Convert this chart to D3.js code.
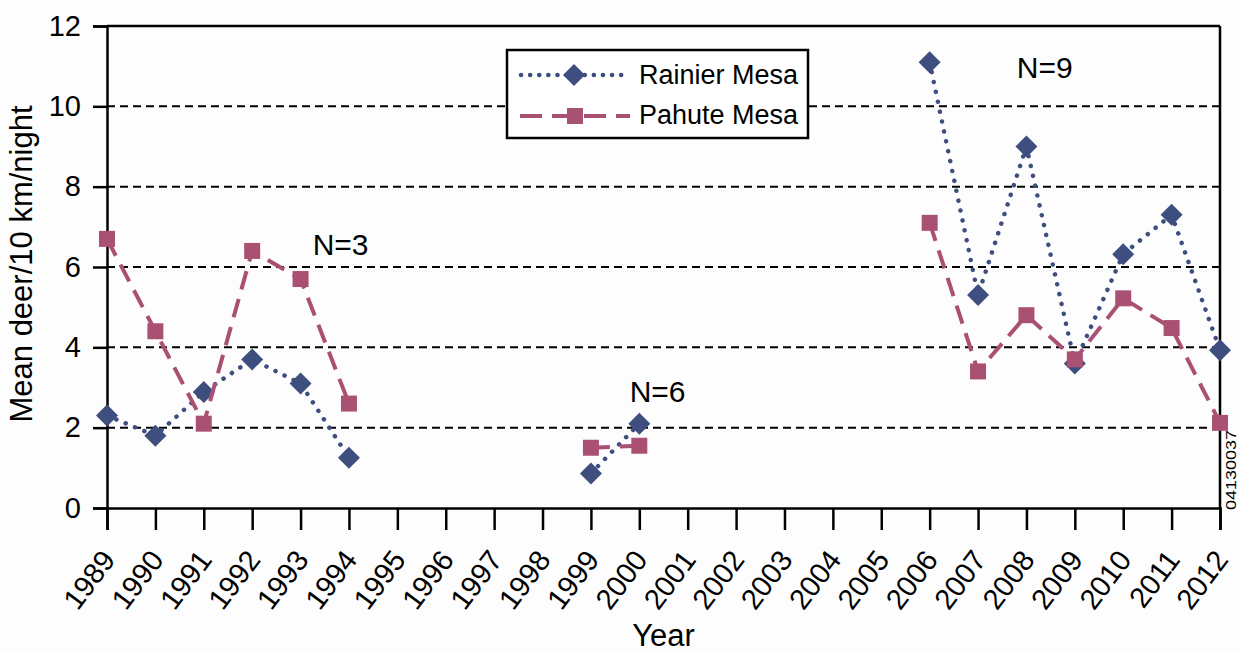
<!DOCTYPE html>
<html>
<head>
<meta charset="utf-8">
<script src="https://cdn.jsdelivr.net/npm/d3@7/dist/d3.min.js"></script>
<style>
  html, body { margin: 0; padding: 0; background: #fdfdfd; }
  svg { display: block; font-family: "Liberation Sans", Arial, sans-serif; }
</style>
</head>
<body>
<svg id="chart" width="1239" height="652"></svg>
<script>
// ---- Data ----
const years = d3.range(1989, 2013);
const rainierMesa = [2.30, 1.80, 2.89, 3.70, 3.10, 1.25, null, null, null, null, 0.86, 2.10,
                     null, null, null, null, null, 11.10, 5.30, 9.00, 3.60, 6.32, 7.30, 3.93];
const pahuteMesa  = [6.70, 4.40, 2.10, 6.40, 5.70, 2.60, null, null, null, null, 1.50, 1.55,
                     null, null, null, null, null, 7.10, 3.40, 4.80, 3.70, 5.22, 4.48, 2.12];
const yTicks = [0, 2, 4, 6, 8, 10, 12];
const gridValues = [2, 4, 6, 8, 10];
const seriesNames = ["Rainier Mesa", "Pahute Mesa"];
const annotations = [
  { text: "N=3", year: 1993.25, value: 6.3 },
  { text: "N=6", year: 1999.8, value: 2.65 },
  { text: "N=9", year: 2007.8, value: 10.7 }
];

// ---- Layout ----
const svg = d3.select("#chart");
const L = 107, R = 1220, T = 26, B = 508;
const x = d3.scaleLinear().domain([1989, 2012]).range([L, R]);
const y = d3.scaleLinear().domain([0, 12]).range([B, T]);

const navy = "#3d4e7f";
const rose = "#aa5073";
const FONT = "Liberation Sans, Arial, sans-serif";

// grid
svg.append("g").selectAll("line").data(gridValues).join("line")
  .attr("x1", L).attr("x2", R)
  .attr("y1", d => y(d)).attr("y2", d => y(d))
  .attr("stroke", "#000").attr("stroke-width", 2)
  .attr("stroke-dasharray", "8 5");

// frame top/right
svg.append("line").attr("x1", L).attr("x2", R).attr("y1", T).attr("y2", T)
  .attr("stroke", "#000").attr("stroke-width", 2.5);
svg.append("line").attr("x1", R).attr("x2", R).attr("y1", T).attr("y2", B)
  .attr("stroke", "#000").attr("stroke-width", 2.5);

// y axis
const yAxis = svg.append("g").attr("transform", `translate(${L},0)`)
  .call(d3.axisLeft(y).tickValues(yTicks).tickSize(14).tickPadding(12).tickFormat(d3.format("d")));
yAxis.select(".domain").attr("stroke-width", 2.5);
yAxis.selectAll(".tick line").attr("stroke-width", 2.5);
yAxis.selectAll("text").style("font-size", "29px").attr("fill", "#000")
  .style("font-family", FONT);

// x axis
const xAxis = svg.append("g").attr("transform", `translate(0,${B})`)
  .call(d3.axisBottom(x).tickValues(years).tickSize(22).tickFormat(d3.format("d")));
xAxis.select(".domain").attr("stroke-width", 2.5);
xAxis.selectAll(".tick line").attr("stroke-width", 2.5);
xAxis.selectAll("text")
  .style("font-size", "29px").attr("fill", "#000")
  .style("font-family", FONT)
  .attr("x", 0).attr("y", 0).attr("dy", 0)
  .attr("text-anchor", "end")
  .attr("transform", "translate(9,52) rotate(-53)");

// axis titles
svg.append("text").attr("x", (L + R) / 2).attr("y", 646)
  .attr("text-anchor", "middle").style("font-size", "31px").text("Year");
svg.append("text").attr("transform", "translate(32,264) rotate(-90)")
  .attr("text-anchor", "middle").style("font-size", "31px").text("Mean deer/10 km/night");

// lines
const lineGen = d3.line()
  .defined(d => d.v != null)
  .x(d => x(d.year)).y(d => y(d.v));

const rData = years.map((yr, i) => ({ year: yr, v: rainierMesa[i] }));
const pData = years.map((yr, i) => ({ year: yr, v: pahuteMesa[i] }));

svg.append("path").datum(rData).attr("d", lineGen)
  .attr("fill", "none").attr("stroke", navy).attr("stroke-width", 4.5)
  .attr("stroke-linecap", "round").attr("stroke-dasharray", "0.1 10");

const diamondPath = d3.symbol().type(d3.symbolSquare).size(242)();
const squarePath = d3.symbol().type(d3.symbolSquare).size(256)();

svg.append("g").selectAll("path").data(rData.filter(d => d.v != null)).join("path")
  .attr("d", diamondPath)
  .attr("transform", d => `translate(${x(d.year)},${y(d.v)}) rotate(45)`)
  .attr("fill", navy);

svg.append("path").datum(pData).attr("d", lineGen)
  .attr("fill", "none").attr("stroke", rose).attr("stroke-width", 4)
  .attr("stroke-dasharray", "19 10");

svg.append("g").selectAll("path").data(pData.filter(d => d.v != null)).join("path")
  .attr("d", squarePath)
  .attr("transform", d => `translate(${x(d.year)},${y(d.v)})`)
  .attr("fill", rose);

// annotations
svg.append("g").selectAll("text").data(annotations).join("text")
  .attr("x", d => x(d.year)).attr("y", d => y(d.value))
  .style("font-size", "30px").text(d => d.text);

// legend
const lg = svg.append("g");
lg.append("rect").attr("x", 507).attr("y", 50).attr("width", 301).attr("height", 88)
  .attr("fill", "#fff").attr("stroke", "#000").attr("stroke-width", 2.5);
lg.append("line").attr("x1", 521).attr("x2", 627).attr("y1", 75).attr("y2", 75)
  .attr("stroke", navy).attr("stroke-width", 4.5).attr("stroke-linecap", "round")
  .attr("stroke-dasharray", "0.1 9");
lg.append("path").attr("d", diamondPath)
  .attr("transform", "translate(574,75) rotate(45)").attr("fill", navy);
lg.append("line").attr("x1", 520).attr("x2", 630).attr("y1", 116).attr("y2", 116)
  .attr("stroke", rose).attr("stroke-width", 4).attr("stroke-dasharray", "22 10");
lg.append("path").attr("d", squarePath).attr("transform", "translate(575,116)").attr("fill", rose);
lg.selectAll("text.lt").data(seriesNames).join("text").attr("class", "lt")
  .attr("x", 639).attr("y", (d, i) => 84 + i * 40)
  .style("font-size", "27px").text(d => d);

// id stamp
svg.append("text").attr("transform", "translate(1236,510) rotate(-90)")
  .style("font-size", "15px").attr("textLength", 80).attr("lengthAdjust", "spacingAndGlyphs")
  .text("04130037");
</script>
</body>
</html>
